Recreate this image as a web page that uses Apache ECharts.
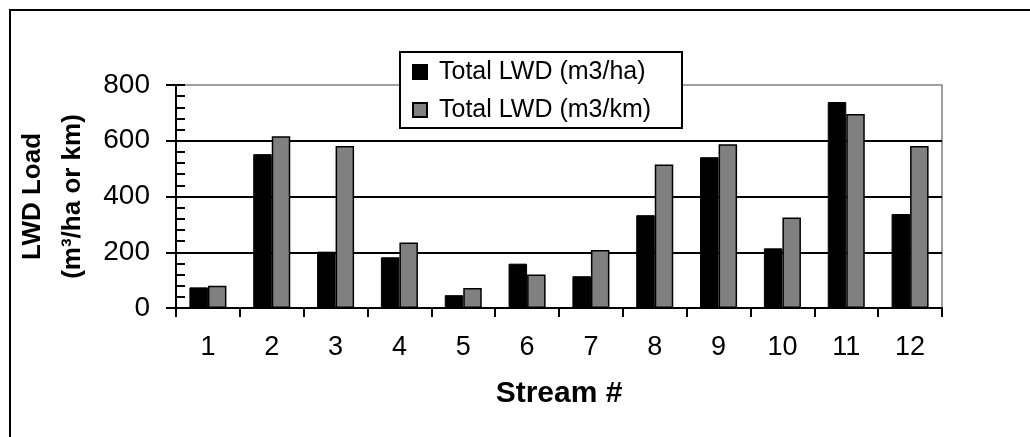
<!DOCTYPE html>
<html>
<head>
<meta charset="utf-8">
<script src="https://cdn.jsdelivr.net/npm/echarts@6/dist/echarts.min.js"></script>
<style>
html,body{margin:0;padding:0;background:#fff;}
#chart{width:1030px;height:437px;}
</style>
</head>
<body>
<div id="chart"></div>
<script>
const streams = ['1','2','3','4','5','6','7','8','9','10','11','12'];
const totalPerHa = [74, 552, 202, 182, 46, 159, 114, 333, 541, 214, 739, 337];
const totalPerKm = [80, 616, 581, 235, 72, 120, 208, 515, 587, 325, 696, 581];
const yTicks = [0, 200, 400, 600, 800];
const seriesNames = ['Total LWD (m3/ha)', 'Total LWD (m3/km)'];

const FONT = '"Liberation Sans", Arial, Helvetica, sans-serif';
const chart = echarts.init(document.getElementById('chart'), null, {renderer: 'canvas'});

chart.setOption({
  animation: false,
  backgroundColor: '#fff',
  textStyle: {fontFamily: FONT, color: '#000'},
  grid: {
    left: 176, right: 88, top: 85, bottom: 129,
    show: true, borderColor: '#808080', borderWidth: 1.5,
    outerBoundsMode: 'none', containLabel: false
  },
  graphic: [
    {type: 'rect', z: 1, silent: true,
     shape: {x: 10, y: 10, width: 1040, height: 440},
     style: {fill: 'none', stroke: '#000', lineWidth: 2}},
    {type: 'rect', z: 3, silent: true,
     shape: {x: 400, y: 52, width: 282, height: 76},
     style: {fill: '#fff', stroke: '#000', lineWidth: 2}}
  ],
  legend: {
    z: 10,
    orient: 'vertical',
    left: 412, top: 59,
    padding: 0,
    itemGap: 12,
    itemWidth: 14, itemHeight: 14,
    icon: 'rect',
    data: seriesNames,
    textStyle: {fontFamily: FONT, fontSize: 25, color: '#000', lineHeight: 26, padding: [0,0,0,7]}
  },
  xAxis: {
    type: 'category',
    data: streams,
    boundaryGap: true,
    name: 'Stream #',
    nameLocation: 'middle',
    nameGap: 71,
    nameTextStyle: {fontFamily: FONT, fontSize: 30, fontWeight: 'bold', color: '#000'},
    axisLine: {lineStyle: {color: '#000', width: 2}},
    axisTick: {show: true, inside: false, length: 9, lineStyle: {color: '#000', width: 2}},
    axisLabel: {fontFamily: FONT, fontSize: 27, color: '#000', margin: 26},
    splitLine: {show: false}
  },
  yAxis: [
    {
      type: 'value',
      min: yTicks[0], max: yTicks[yTicks.length - 1], interval: 200,
      name: 'LWD Load\n(m³/ha or km)',
      nameLocation: 'middle',
      nameRotate: 90,
      nameGap: 80,
      nameTextStyle: {fontFamily: FONT, fontSize: 26, fontWeight: 'bold', color: '#000', lineHeight: 40},
      axisLine: {show: true, lineStyle: {color: '#000', width: 2}},
      axisTick: {show: true, inside: false, length: 10, lineStyle: {color: '#000', width: 2}},
      axisLabel: {fontFamily: FONT, fontSize: 28, color: '#000', margin: 26},
      splitLine: {show: true, showMinLine: false, showMaxLine: false, lineStyle: {color: '#000', width: 2}}
    },
    {
      type: 'value',
      position: 'left',
      min: 0, max: 800, interval: 40,
      axisLine: {show: false},
      axisTick: {show: true, inside: true, length: 9, lineStyle: {color: '#000', width: 2}},
      axisLabel: {show: false},
      splitLine: {show: false}
    }
  ],
  series: [
    {
      name: seriesNames[0],
      type: 'bar',
      yAxisIndex: 0,
      data: totalPerHa,
      barGap: '0%',
      barCategoryGap: '42%',
      itemStyle: {color: '#000', borderColor: '#000', borderWidth: 1}
    },
    {
      name: seriesNames[1],
      type: 'bar',
      yAxisIndex: 0,
      data: totalPerKm,
      barGap: '0%',
      barCategoryGap: '42%',
      itemStyle: {color: '#808080', borderColor: '#000', borderWidth: 1.5}
    }
  ]
});
</script>
</body>
</html>
